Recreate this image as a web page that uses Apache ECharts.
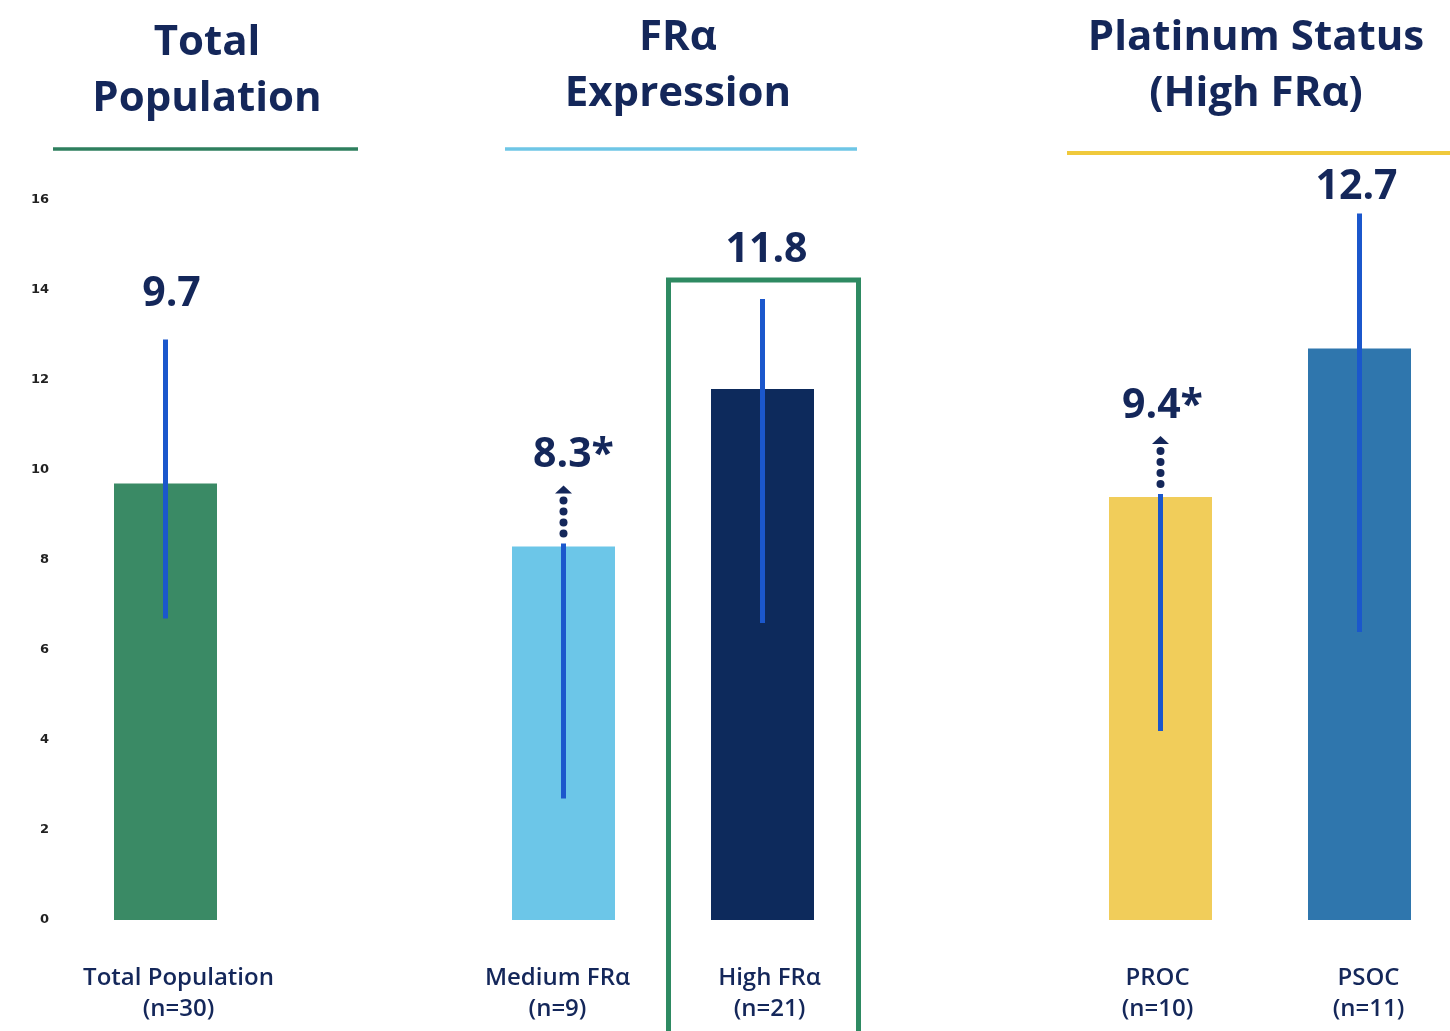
<!DOCTYPE html>
<html>
<head>
<meta charset="utf-8">
<script src="https://cdn.jsdelivr.net/npm/echarts@6/dist/echarts.min.js"></script>
<style>
  html, body { margin: 0; padding: 0; background: #ffffff; }
  #chart { width: 1450px; height: 1031px; }
</style>
</head>
<body>
<div id="chart"></div>
<script>
// Median OS (months) by subgroup; empty slots separate the three panels
const categories = ['Total Population\n(n=30)', '', 'Medium FRα\n(n=9)', 'High FRα\n(n=21)', '', 'PROC\n(n=10)', 'PSOC\n(n=11)'];
const medianValues = [9.7, null, 8.3, 11.8, null, 9.4, 12.7];
// 95% CI bounds; null upper bound = not reached (drawn as a dotted arrow)
const ciLower = [6.7, null, 2.7, 6.6, null, 4.2, 6.4];
const ciUpper = [12.9, null, null, 13.8, null, null, 15.7];
const valueLabels = ['9.7', '', '8.3*', '11.8', '', '9.4*', '12.7'];
const yTicks = [0, 2, 4, 6, 8, 10, 12, 14, 16];

const panelTitles = ['Total\nPopulation', 'FRα\nExpression', 'Platinum Status\n(High FRα)'];

// styling
const barColors = ['#3a8a65', null, '#6cc6e8', '#0d2a5c', null, '#f1cd5a', '#2f76ad'];
const labelGap = [45, 0, 0, 49, 0, 0, 26];
const labelShift = [6, 0, 10, 4, 0, 2, -3];
const tickLabelPad = [[0, 0, 0, 26], [0, 0, 0, 0], [0, 12, 0, 0], [0, 0, 0, 14], [0, 0, 0, 0], [0, 6, 0, 0], [0, 0, 0, 18]];
const navy = '#14275a';
const ciBlue = '#1b57cc';

const chart = echarts.init(document.getElementById('chart'), null, { renderer: 'canvas' });

function renderCI(params, api) {
  const i = api.value(0);
  const x = api.coord([i, 0])[0];
  const top = api.coord([i, medianValues[i]])[1];
  const low = api.coord([i, ciLower[i]])[1];
  const children = [];
  const font = 'bold 41px "Open Sans"';
  if (ciUpper[i] != null) {
    const high = api.coord([i, ciUpper[i]])[1];
    children.push({ type: 'line', shape: { x1: x, y1: low, x2: x, y2: high },
      style: { stroke: ciBlue, lineWidth: 5 } });
    children.push({ type: 'text', x: x + labelShift[i], y: high - labelGap[i],
      style: { text: valueLabels[i], fill: navy, font: font, align: 'center', verticalAlign: 'middle' } });
  } else {
    children.push({ type: 'line', shape: { x1: x, y1: low, x2: x, y2: top - 3 },
      style: { stroke: ciBlue, lineWidth: 5 } });
    [13, 24, 35, 46].forEach(function (d) {
      children.push({ type: 'circle', shape: { cx: x, cy: top - d, r: 4 }, style: { fill: navy } });
    });
    children.push({ type: 'polygon', shape: { points: [[x - 8.5, top - 53], [x + 8.5, top - 53], [x, top - 61]] },
      style: { fill: navy } });
    children.push({ type: 'text', x: x + labelShift[i], y: top - 91,
      style: { text: valueLabels[i], fill: navy, font: font, align: 'center', verticalAlign: 'middle' } });
  }
  return { type: 'group', children: children };
}

const ciData = [];
medianValues.forEach(function (v, i) { if (v != null) ciData.push([i, v]); });

const rich = {};
tickLabelPad.forEach(function (p, i) {
  rich['c' + i] = { color: navy, fontSize: 24, fontWeight: 600, fontFamily: 'Open Sans', lineHeight: 31, padding: p };
});

chart.setOption({
  animation: false,
  backgroundColor: '#ffffff',
  grid: { left: 66, top: 200, width: 1393, height: 720, outerBoundsMode: 'none', containLabel: false },
  xAxis: {
    type: 'category',
    data: categories,
    axisLine: { show: false },
    axisTick: { show: false },
    axisLabel: {
      interval: 0, margin: 43,
      formatter: function (value, index) {
        if (!value) return '';
        return value.split('\n').map(function (line) { return '{c' + index + '|' + line + '}'; }).join('\n');
      },
      rich: rich
    }
  },
  yAxis: {
    type: 'value',
    min: yTicks[0], max: yTicks[yTicks.length - 1], interval: 2,
    axisLine: { show: false },
    axisTick: { show: false },
    splitLine: { show: false },
    axisLabel: { margin: 17, color: '#222', fontSize: 13, fontWeight: 'bold', fontFamily: 'DejaVu Sans' }
  },
  series: [
    {
      type: 'bar',
      barWidth: 103,
      clip: false,
      data: medianValues.map(function (v, i) {
        return v == null ? null : { value: v, itemStyle: { color: barColors[i] } };
      })
    },
    {
      type: 'custom',
      renderItem: renderCI,
      data: ciData,
      encode: { x: 0, y: 1 },
      z: 5
    }
  ]
});

// Panel titles, underlines and the High FRα highlight frame
const titleFont = 'bold 42px "Open Sans"';
const highX = chart.convertToPixel({ xAxisIndex: 0 }, 3);
chart.setOption({
  graphic: [
    { type: 'text', x: 207, y: 71, style: { text: panelTitles[0], font: titleFont, fill: navy, align: 'center', verticalAlign: 'middle', lineHeight: 56 } },
    { type: 'text', x: 678, y: 66, style: { text: panelTitles[1], font: titleFont, fill: navy, align: 'center', verticalAlign: 'middle', lineHeight: 56 } },
    { type: 'text', x: 1256, y: 66, style: { text: panelTitles[2], font: titleFont, fill: navy, align: 'center', verticalAlign: 'middle', lineHeight: 56 } },
    { type: 'line', shape: { x1: 53, y1: 149, x2: 358, y2: 149 }, style: { stroke: '#2e7f5e', lineWidth: 3.5 } },
    { type: 'line', shape: { x1: 505, y1: 149, x2: 857, y2: 149 }, style: { stroke: '#6ec6e6', lineWidth: 3.5 } },
    { type: 'line', shape: { x1: 1067, y1: 153, x2: 1450, y2: 153 }, style: { stroke: '#f0c93c', lineWidth: 4 } },
    { type: 'rect', shape: { x: highX - 94, y: 280, width: 190, height: 780 },
      style: { fill: 'none', stroke: '#2e8a62', lineWidth: 5 } }
  ]
});
</script>
</body>
</html>
